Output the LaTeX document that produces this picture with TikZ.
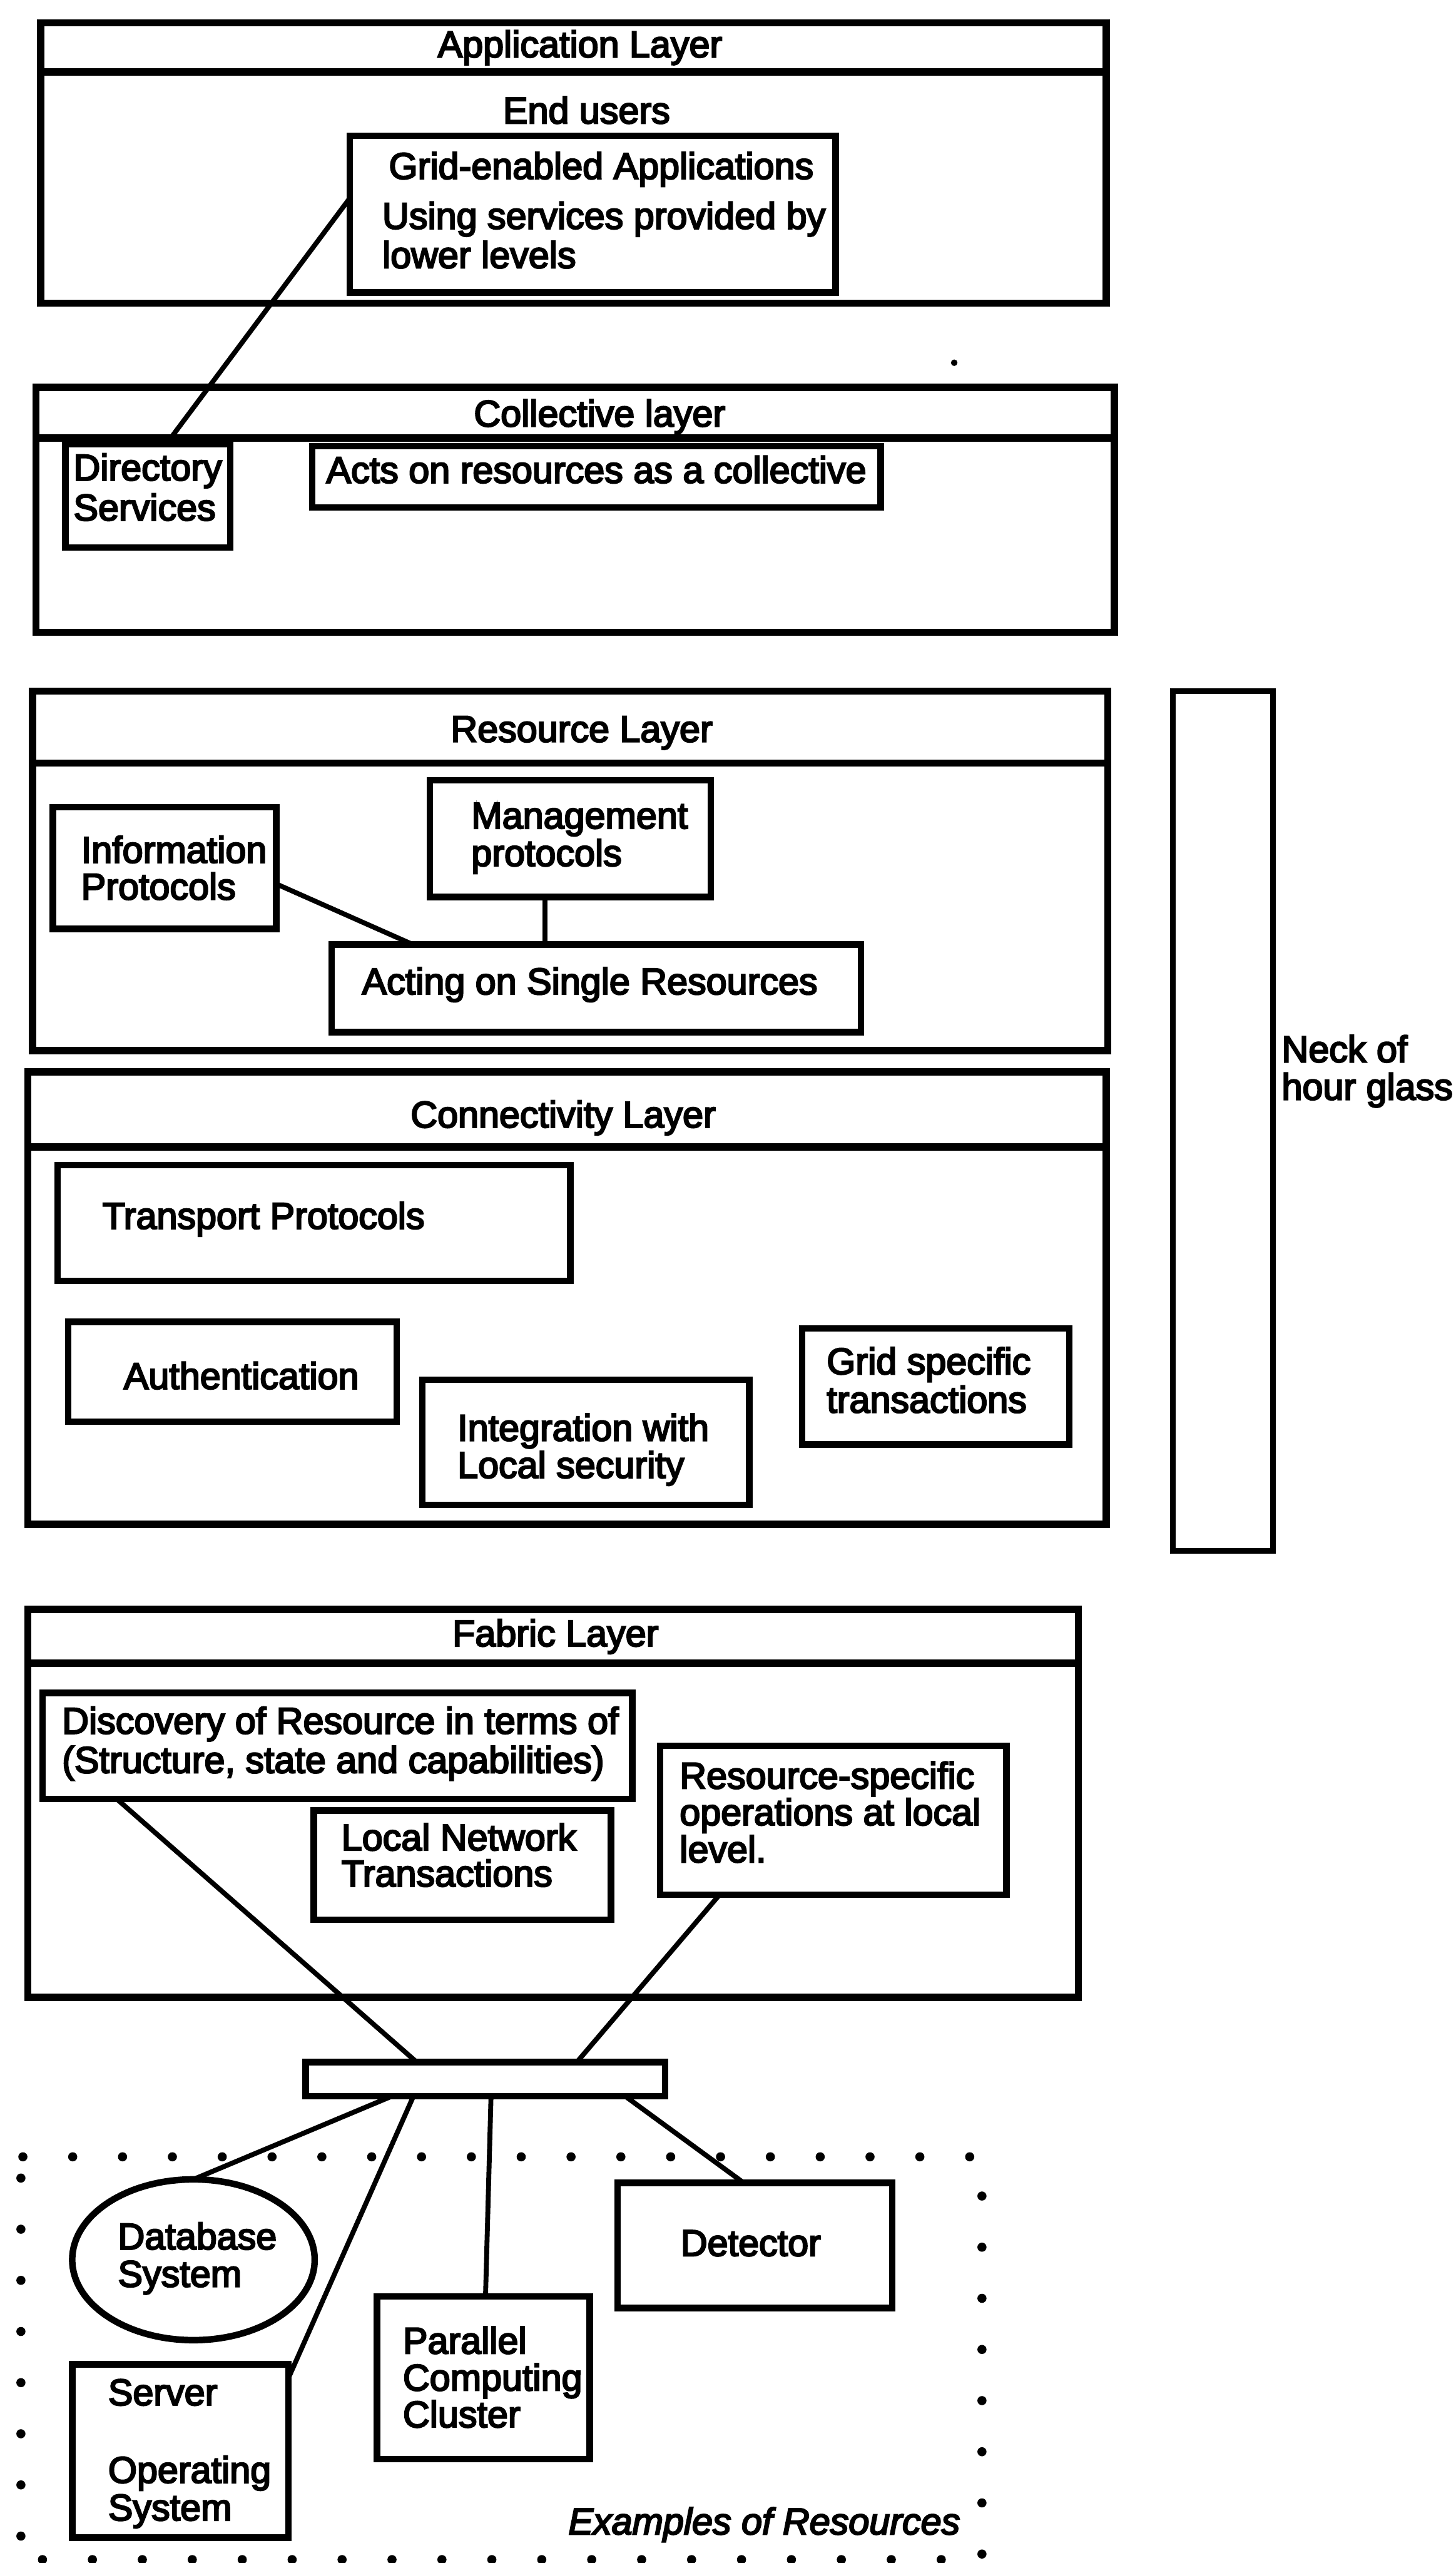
\documentclass[tikz,border=0pt]{standalone}
\usepackage{fontspec}
\setmainfont{Liberation Sans}[FakeBold=4, ItalicFeatures={FakeBold=4}]
\usetikzlibrary{calc,shapes.geometric}
\begin{document}
\begin{tikzpicture}[x=1pt,y=-1pt,
  font=\fontsize{22.7pt}{23.5pt}\selectfont,
  layer/.style={draw, line width=4.5pt, inner sep=0pt, outer sep=0pt, anchor=north west},
  box/.style={draw, line width=4pt, inner sep=0pt, outer sep=0pt, anchor=north west},
  divider/.style={line width=4.5pt},
  conn/.style={line width=3pt},
  tx/.style={inner sep=0pt, outer sep=0pt, anchor=base west},
  txc/.style={inner sep=0pt, outer sep=0pt, anchor=base}]
\useasboundingbox (0,0) rectangle (891,1568.6);

% ---------- Application layer
\node[layer, minimum width=652pt, minimum height=171.5pt] (app) at (25,14) {};
\coordinate (happ) at (0,44);
\draw[divider] (app.west |- happ) -- (app.east |- happ);
\node[txc] (appt) at (355,35) {Application Layer};
\node[txc] (endu) at (359,75.5) {End users};
\node[box, minimum width=297.5pt, minimum height=96pt] (grid) at (214,83) {};
\node[txc] (gridt1) at (368,109.5) {Grid-enabled Applications};
\node[tx] (gridt2) at (234,140) {Using services provided by};
\node[tx] (gridt3) at (234,164) {lower levels};

% ---------- Collective layer
\node[layer, minimum width=660pt, minimum height=150pt] (coll) at (22,237) {};
\coordinate (hcoll) at (0,268);
\draw[divider] (coll.west |- hcoll) -- (coll.east |- hcoll);
\node[txc] (collt) at (367,261) {Collective layer};
\node[box, minimum width=101pt, minimum height=63pt] (dir) at (40,272) {};
\node[tx] (dirt1) at (45,294) {Directory};
\node[tx] (dirt2) at (45,318.5) {Services};
\node[box, minimum width=348pt, minimum height=37.5pt] (acts) at (191,273) {};
\node[txc] (actst) at (365,295.5) {Acts on resources as a collective};
\fill (584,222) circle (2pt);

\draw[conn] ($(grid.north west)!0.4!(grid.south west)$) -- ($(dir.north west)!0.61!(dir.north east)$);

% ---------- Resource layer
\node[layer, minimum width=658pt, minimum height=220pt] (res) at (20,423) {};
\coordinate (hres) at (0,467);
\draw[divider] (res.west |- hres) -- (res.east |- hres);
\node[txc] (rest) at (356,454) {Resource Layer};
\node[box, minimum width=136.7pt, minimum height=74.5pt] (info) at (32.3,494) {};
\node[tx] (infot1) at (49.7,528) {Information};
\node[tx] (infot2) at (49.7,550.5) {Protocols};
\node[box, minimum width=172pt, minimum height=71.4pt] (mgmt) at (263,477.6) {};
\node[tx] (mgmtt1) at (288.5,507) {Management};
\node[tx] (mgmtt2) at (288.5,530) {protocols};
\node[box, minimum width=324pt, minimum height=53.6pt] (acting) at (203,578) {};
\node[txc] (actingt) at (361,608.5) {Acting on Single Resources};
\draw[conn] ($(info.north east)!0.63!(info.south east)$) -- ($(acting.north west)!0.153!(acting.north east)$);
\draw[conn] ($(mgmt.south west)!0.41!(mgmt.south east)$) coordinate (m1) -- (m1 |- acting.north);

% ---------- Neck of hour glass
\node[draw, line width=3.5pt, inner sep=0pt, outer sep=0pt, anchor=north west,
      minimum width=61pt, minimum height=526pt] (neck) at (718,423) {};
\node[tx] (neckt1) at (784.5,650) {Neck of};
\node[tx] (neckt2) at (784.5,673) {hour glass};

% ---------- Connectivity layer
\node[layer, minimum width=660pt, minimum height=277pt] (cnt) at (17,656) {};
\coordinate (hcnt) at (0,702);
\draw[divider] (cnt.west |- hcnt) -- (cnt.east |- hcnt);
\node[txc] (cntt) at (344.7,690) {Connectivity Layer};
\node[box, minimum width=313.7pt, minimum height=71pt] (trans) at (35.3,713) {};
\node[tx] (transt) at (62.7,752) {Transport Protocols};
\node[box, minimum width=201pt, minimum height=61pt] (auth) at (41.8,809) {};
\node[txc] (autht) at (147.7,850) {Authentication};
\node[box, minimum width=200pt, minimum height=76.5pt] (integ) at (258.6,844.5) {};
\node[tx] (integt1) at (280,881.7) {Integration with};
\node[tx] (integt2) at (280,904.5) {Local security};
\node[box, minimum width=163.5pt, minimum height=71pt] (gsp) at (491,813) {};
\node[tx] (gspt1) at (506,841) {Grid specific};
\node[tx] (gspt2) at (506,864.5) {transactions};

% ---------- Fabric layer
\node[layer, minimum width=643pt, minimum height=237.5pt] (fab) at (17,985) {};
\coordinate (hfab) at (0,1018);
\draw[divider] (fab.west |- hfab) -- (fab.east |- hfab);
\node[txc] (fabt) at (340,1007.5) {Fabric Layer};
\node[box, minimum width=361pt, minimum height=65pt] (disc) at (26,1036) {};
\node[tx] (disct1) at (38,1061) {Discovery of Resource in terms of};
\node[tx] (disct2) at (38,1085) {(Structure, state and capabilities)};
\node[box, minimum width=182pt, minimum height=67pt] (local) at (192,1108) {};
\node[tx] (localt1) at (209,1132.4) {Local Network};
\node[tx] (localt2) at (209,1154.5) {Transactions};
\node[box, minimum width=212pt, minimum height=91pt] (rspec) at (404,1068.5) {};
\node[tx] (rspect1) at (416,1094.6) {Resource-specific};
\node[tx] (rspect2) at (416,1117) {operations at local};
\node[tx] (rspect3) at (416,1139.7) {level.};

% ---------- Connector bar
\node[box, minimum width=220pt, minimum height=21pt] (bar) at (187,1262) {};
\draw[conn] ($(disc.south west)!0.126!(disc.south east)$) -- ($(bar.north west)!0.309!(bar.north east)$);
\draw[conn] ($(rspec.south west)!0.172!(rspec.south east)$) -- ($(bar.north west)!0.755!(bar.north east)$);

% ---------- Examples of resources
\node[draw, ellipse, line width=4pt, inner sep=0pt, outer sep=0pt,
      minimum width=148.4pt, minimum height=98.4pt] (db) at (118.4,1383) {};
\node[tx] (dbt1) at (72.2,1376.6) {Database};
\node[tx] (dbt2) at (72.2,1399.5) {System};
\node[box, minimum width=132.3pt, minimum height=106pt] (server) at (44.2,1447) {};
\node[tx] (servt1) at (66.2,1472) {Server};
\node[tx] (servt2) at (66.2,1519.5) {Operating};
\node[tx] (servt3) at (66.2,1542.5) {System};
\node[box, minimum width=130.3pt, minimum height=99.5pt] (par) at (230.7,1405.5) {};
\node[tx] (part1) at (246.6,1440.4) {Parallel};
\node[tx] (part2) at (246.6,1463) {Computing};
\node[tx] (part3) at (246.6,1485.5) {Cluster};
\node[box, minimum width=168pt, minimum height=76.5pt] (det) at (378,1336) {};
\node[txc] (dett) at (459.5,1380.6) {Detector};

\draw[conn] ($(bar.south west)!0.239!(bar.south east)$) -- (db.north);
\draw[conn] ($(bar.south west)!0.3!(bar.south east)$) -- ($(server.north east)!0.08!(server.south east)$);
\draw[conn] ($(bar.south west)!0.516!(bar.south east)$) -- ($(par.north west)!0.51!(par.north east)$);
\draw[conn] ($(bar.south west)!0.89!(bar.south east)$) -- ($(det.north west)!0.46!(det.north east)$);

\node[inner sep=0pt, outer sep=0pt, anchor=base east, font=\fontsize{22.7pt}{23.5pt}\selectfont\itshape] (ex) at (587.6,1551) {Examples of Resources};

% dotted boundary
\foreach \i in {0,...,19} \fill (14+30.5*\i,1320) circle (2.8pt);
\foreach \i in {0,...,7} \fill (12.8,1333+31.3*\i) circle (2.8pt);
\foreach \i in {0,...,7} \fill (601,1344+31.3*\i) circle (2.8pt);
\foreach \i in {0,...,18} \fill (26+30.56*\i,1566.5) circle (2.8pt);
\end{tikzpicture}
\end{document}
